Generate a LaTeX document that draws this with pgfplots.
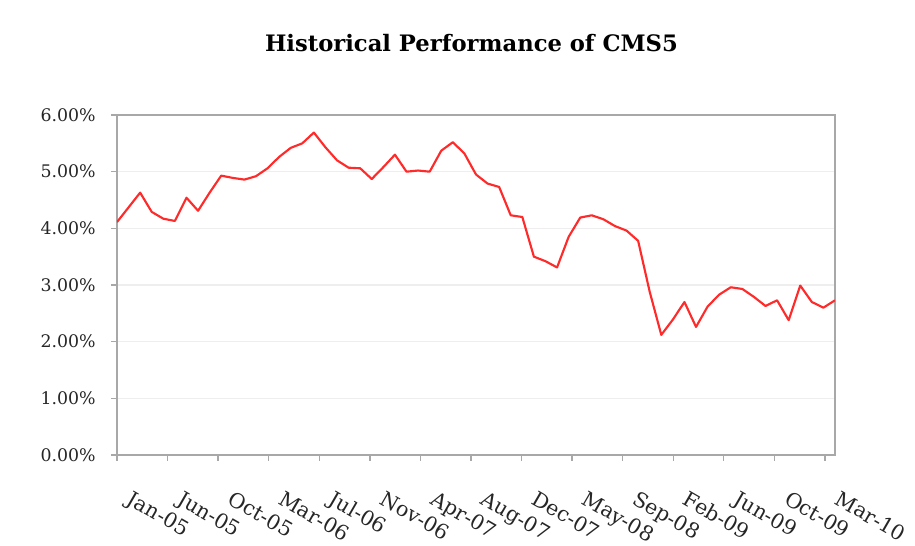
\documentclass[border=0pt]{standalone}
\usepackage{fontspec}
\setmainfont{DejaVu Serif}
\usepackage{pgfplots}
\pgfplotsset{compat=1.18}
\definecolor{axgray}{HTML}{A8A8A8}
\definecolor{gridgray}{HTML}{EEEEEE}
\definecolor{linered}{HTML}{FF2A2A}
\begin{document}
\begin{tikzpicture}[x=0.75pt,y=0.75pt]
\path[use as bounding box] (0,0) rectangle (915,546);
\begin{axis}[
  at={(87.75pt,68.25pt)}, anchor=south west, scale only axis,
  width=538.5pt, height=255pt,
  xmin=0, xmax=62, ymin=0, ymax=6,
  axis line style={axgray, line width=1.5pt},
  tick style={axgray, line width=1pt},
  major tick length=4.5pt,
  tick align=outside, tick pos=left,
  ymajorgrids, major grid style={gridgray, line width=0.8pt},
  ytick={0,1,2,3,4,5,6},
  yticklabel={\pgfmathprintnumber[fixed,fixed zerofill,precision=2]{\tick}\%},
  /pgf/number format/assume math mode=true,
  xtick={0,4.3667,8.7333,13.1,17.4667,21.8333,26.2,30.5667,34.9333,39.3,43.6667,48.0333,52.4,56.7667,61.1333},
  xticklabels={Jan-05,Jun-05,Oct-05,Mar-06,Jul-06,Nov-06,Apr-07,Aug-07,Dec-07,May-08,Sep-08,Feb-09,Jun-09,Oct-09,Mar-10},
  yticklabel style={font=\fontsize{13}{15}\selectfont, text=black!85, xshift=-8pt},
  xticklabel style={font=\fontsize{15.5}{18}\selectfont, text=black!85, xshift=11pt, yshift=-17pt, rotate=-30, anchor=north west},
  title={Historical Performance of CMS5},
  title style={font=\fontsize{17}{20}\selectfont\bfseries, anchor=center, at={(0.5,1)}, yshift=48pt, xshift=-3.4pt},
]
\addplot[linered, line width=1.6pt, line join=round, mark=none] coordinates {
(0,4.11) (1,4.37) (2,4.63) (3,4.29) (4,4.17) (5,4.13) (6,4.54) (7,4.31) (8,4.63) (9,4.93)
(10,4.89) (11,4.86) (12,4.92) (13,5.06) (14,5.26) (15,5.42) (16,5.50) (17,5.69) (18,5.43) (19,5.20)
(20,5.07) (21,5.06) (22,4.87) (23,5.08) (24,5.30) (25,5.00) (26,5.02) (27,5.00) (28,5.37) (29,5.52)
(30,5.32) (31,4.95) (32,4.79) (33,4.73) (34,4.23) (35,4.20) (36,3.50) (37,3.42) (38,3.31) (39,3.85)
(40,4.19) (41,4.23) (42,4.16) (43,4.04) (44,3.96) (45,3.78) (46,2.88) (47,2.12) (48,2.39) (49,2.70)
(50,2.26) (51,2.62) (52,2.83) (53,2.96) (54,2.93) (55,2.79) (56,2.63) (57,2.73) (58,2.38) (59,2.99)
(60,2.70) (61,2.60) (62,2.73)
};
\end{axis}
\end{tikzpicture}
\end{document}
